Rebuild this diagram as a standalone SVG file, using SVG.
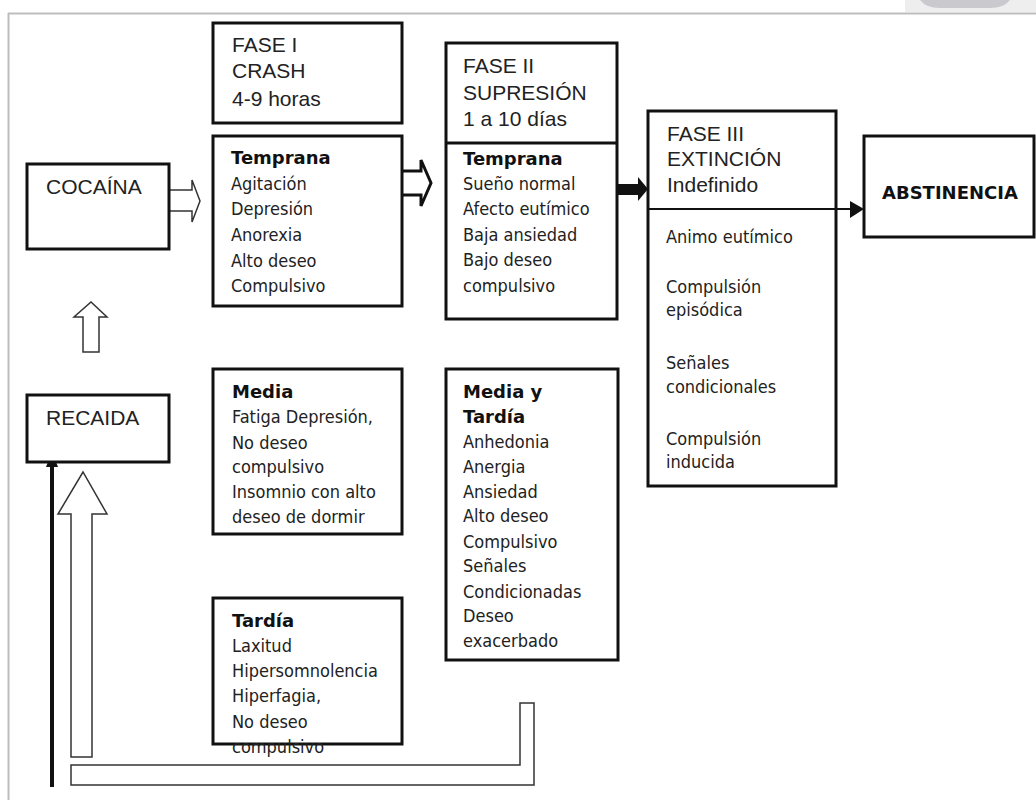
<svg xmlns="http://www.w3.org/2000/svg" width="1036" height="800" viewBox="0 0 1036 800">
<style>
.box{fill:#fff;stroke:#111;stroke-width:3}
.t{font-family:"Liberation Sans",Arial,sans-serif;font-size:21px;fill:#222}
.r{font-family:"DejaVu Sans Condensed","DejaVu Sans",sans-serif;font-size:18px;fill:#222}
.bd{font-family:"DejaVu Sans",sans-serif;font-weight:bold;font-size:18px;fill:#111}
.hollow{fill:#fff;stroke:#333;stroke-width:1.5;stroke-linejoin:miter}
</style>
<rect width="1036" height="800" fill="#fff"/>
<g id="frame">
<rect x="905" y="0" width="131" height="12" fill="#eeeeee"/>
<path d="M920,0 H1010 Q1004,8 990,8 H940 Q926,8 920,0 Z" fill="#c9c9ce"/>
<line x1="8" y1="13.5" x2="1036" y2="13.5" stroke="#bdbdbd" stroke-width="2"/>
<line x1="8.5" y1="13" x2="8.5" y2="800" stroke="#bdbdbd" stroke-width="2"/>
</g>
<g id="connectors">
<path class="hollow" d="M169,190 H192 V180 L200,201 L192,222 V211 H169"/>
<path d="M402,171 H421 V160 L431,183 L421,206 V195 H402" fill="#fff" stroke="#111" stroke-width="3"/>
<rect x="617" y="184" width="23" height="11" fill="#111"/>
<polygon points="638,177 648,189 638,201" fill="#111"/>
<line x1="836" y1="209" x2="852" y2="209" stroke="#111" stroke-width="2"/>
<polygon points="850,201 864,209 850,218" fill="#111"/>
<polygon class="hollow" points="83,352 99,352 99,317 107,317 91,302 74,317 83,317"/>
<polygon class="hollow" points="71,757 92,757 92,514 107,514 83,472 58,514 71,514"/>
<line x1="52" y1="787" x2="52" y2="466" stroke="#111" stroke-width="4"/>
<polygon points="52,452 46,467 58,467" fill="#111"/>
<path class="hollow" d="M71,765 H520 V703 H534 V785 H71 Z"/>
</g>
<g id="cocaina">
<rect class="box" x="27" y="164" width="142" height="85"/>
<text class="t" x="46" y="194">COCAÍNA</text>
</g>
<g id="recaida">
<rect class="box" x="27" y="395" width="142" height="67"/>
<text class="t" x="46" y="425">RECAIDA</text>
</g>
<g id="fase1">
<rect class="box" x="213" y="23" width="189" height="100"/>
<text class="t" x="232" y="52">FASE I</text>
<text class="t" x="232" y="78">CRASH</text>
<text class="t" x="232" y="106">4-9 horas</text>
</g>
<g id="temprana1">
<rect class="box" x="213" y="136" width="189" height="170"/>
<text class="bd" x="231" y="164">Temprana</text>
<text class="r" x="231" y="190">Agitación</text>
<text class="r" x="231" y="215">Depresión</text>
<text class="r" x="231" y="241">Anorexia</text>
<text class="r" x="231" y="267">Alto deseo</text>
<text class="r" x="231" y="292">Compulsivo</text>
</g>
<g id="media1">
<rect class="box" x="213" y="369" width="189" height="165"/>
<text class="bd" x="232" y="398">Media</text>
<text class="r" x="232" y="423">Fatiga Depresión,</text>
<text class="r" x="232" y="449">No deseo</text>
<text class="r" x="232" y="473">compulsivo</text>
<text class="r" x="232" y="498">Insomnio con alto</text>
<text class="r" x="232" y="523">deseo de dormir</text>
</g>
<g id="tardia1">
<rect class="box" x="213" y="598" width="189" height="146"/>
<text class="bd" x="232" y="627">Tardía</text>
<text class="r" x="232" y="652">Laxitud</text>
<text class="r" x="232" y="677">Hipersomnolencia</text>
<text class="r" x="232" y="702">Hiperfagia,</text>
<text class="r" x="232" y="728">No deseo</text>
<text class="r" x="232" y="753">compulsivo</text>
</g>
<g id="fase2">
<rect class="box" x="446" y="43" width="171" height="276"/>
<line x1="446" y1="143" x2="617" y2="143" stroke="#111" stroke-width="3"/>
<text class="t" x="463" y="73">FASE II</text>
<text class="t" x="463" y="100">SUPRESIÓN</text>
<text class="t" x="463" y="126">1 a 10 días</text>
<text class="bd" x="463" y="165">Temprana</text>
<text class="r" x="463" y="190">Sueño normal</text>
<text class="r" x="463" y="215">Afecto eutímico</text>
<text class="r" x="463" y="241">Baja ansiedad</text>
<text class="r" x="463" y="266">Bajo deseo</text>
<text class="r" x="463" y="292">compulsivo</text>
</g>
<g id="media-tardia">
<rect class="box" x="446" y="369" width="172" height="291"/>
<text class="bd" x="463" y="398">Media y</text>
<text class="bd" x="463" y="423">Tardía</text>
<text class="r" x="463" y="448">Anhedonia</text>
<text class="r" x="463" y="473">Anergia</text>
<text class="r" x="463" y="498">Ansiedad</text>
<text class="r" x="463" y="522">Alto deseo</text>
<text class="r" x="463" y="548">Compulsivo</text>
<text class="r" x="463" y="572">Señales</text>
<text class="r" x="463" y="598">Condicionadas</text>
<text class="r" x="463" y="622">Deseo</text>
<text class="r" x="463" y="647">exacerbado</text>
</g>
<g id="fase3">
<rect class="box" x="648" y="111" width="188" height="375"/>
<line x1="648" y1="209" x2="836" y2="209" stroke="#111" stroke-width="2"/>
<text class="t" x="667" y="141">FASE III</text>
<text class="t" x="667" y="166">EXTINCIÓN</text>
<text class="t" x="667" y="192">Indefinido</text>
<text class="r" x="666" y="243">Animo eutímico</text>
<text class="r" x="666" y="293">Compulsión</text>
<text class="r" x="666" y="316">episódica</text>
<text class="r" x="666" y="369">Señales</text>
<text class="r" x="666" y="393">condicionales</text>
<text class="r" x="666" y="445">Compulsión</text>
<text class="r" x="666" y="468">inducida</text>
</g>
<g id="abstinencia">
<rect class="box" x="864" y="136" width="170" height="101"/>
<text class="bd" x="882" y="199">ABSTINENCIA</text>
</g>
</svg>
